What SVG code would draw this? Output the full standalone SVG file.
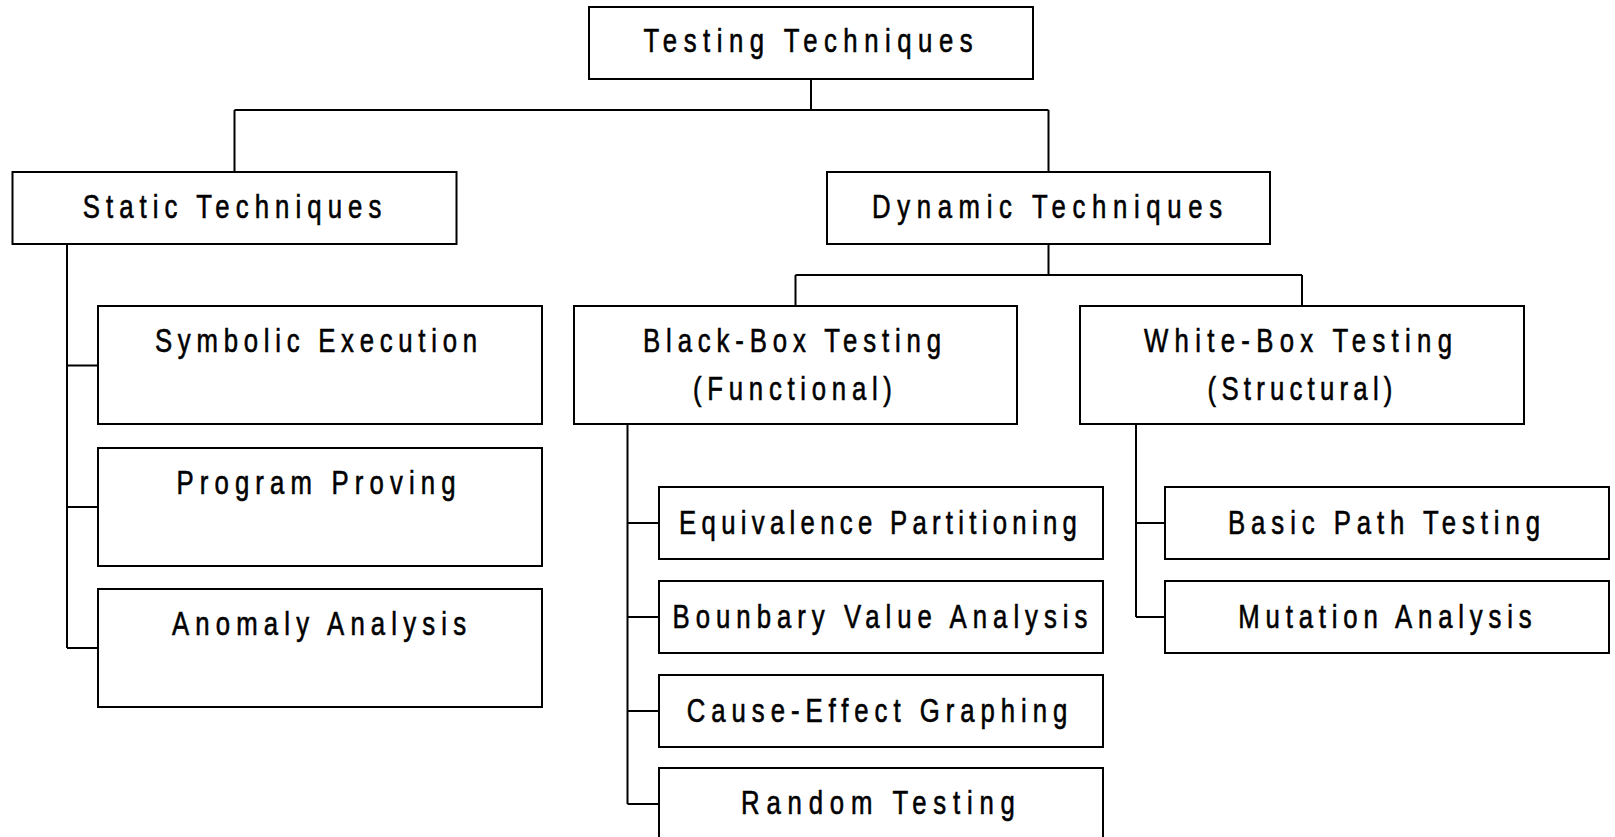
<svg xmlns="http://www.w3.org/2000/svg" width="1615" height="837" viewBox="0 0 1615 837">
  <style>
    .box { fill: #ffffff; stroke: #000000; stroke-width: 2; }
    .wire { fill: none; stroke: #000000; stroke-width: 2; }
    .label { font-family: "Liberation Sans", Arial, sans-serif; font-size: 33px; fill: #000000; stroke: #000000; stroke-width: 0.6; text-anchor: middle; }
  </style>
  <rect width="1615" height="837" fill="#ffffff"/>

  <!-- connectors -->
  <g id="connectors" class="wire">
    <!-- root to first level -->
    <path d="M811,79 V110 M234.5,110 H1048.5 M234.5,110 V172 M1048.5,110 V172"/>
    <!-- static techniques spine -->
    <path d="M67,244 V648 M67,365.5 H98 M67,507 H98 M67,648 H98"/>
    <!-- dynamic techniques split -->
    <path d="M1048.5,244 V275 M795.5,275 H1302 M795.5,275 V306 M1302,275 V306"/>
    <!-- black-box spine -->
    <path d="M627.5,424 V804 M627.5,523 H659 M627.5,617 H659 M627.5,711 H659 M627.5,804 H659"/>
    <!-- white-box spine -->
    <path d="M1136,424 V617 M1136,523 H1165 M1136,617 H1165"/>
  </g>

  <g id="testing-techniques">
    <rect class="box" x="589" y="7" width="444" height="72"/>
    <text class="label" transform="translate(808,52) scale(0.78,1)" textLength="422" lengthAdjust="spacing">Testing Techniques</text>
  </g>

  <g id="static-techniques">
    <rect class="box" x="12.5" y="172" width="444" height="72"/>
    <text class="label" transform="translate(232,218) scale(0.78,1)" textLength="383" lengthAdjust="spacing">Static Techniques</text>
  </g>

  <g id="dynamic-techniques">
    <rect class="box" x="827" y="172" width="443" height="72"/>
    <text class="label" transform="translate(1047,218) scale(0.78,1)" textLength="449" lengthAdjust="spacing">Dynamic Techniques</text>
  </g>

  <g id="symbolic-execution">
    <rect class="box" x="98" y="306" width="444" height="118"/>
    <text class="label" transform="translate(316,352) scale(0.78,1)" textLength="413" lengthAdjust="spacing">Symbolic Execution</text>
  </g>

  <g id="program-proving">
    <rect class="box" x="98" y="448" width="444" height="118"/>
    <text class="label" transform="translate(316,494) scale(0.78,1)" textLength="358" lengthAdjust="spacing">Program Proving</text>
  </g>

  <g id="anomaly-analysis">
    <rect class="box" x="98" y="589" width="444" height="118"/>
    <text class="label" transform="translate(319,635) scale(0.78,1)" textLength="377" lengthAdjust="spacing">Anomaly Analysis</text>
  </g>

  <g id="black-box-testing">
    <rect class="box" x="574" y="306" width="443" height="118"/>
    <text class="label" transform="translate(792,352) scale(0.78,1)" textLength="382" lengthAdjust="spacing">Black-Box Testing</text>
    <text class="label" transform="translate(792.5,400) scale(0.78,1)" textLength="255" lengthAdjust="spacing">(Functional)</text>
  </g>

  <g id="white-box-testing">
    <rect class="box" x="1080" y="306" width="444" height="118"/>
    <text class="label" transform="translate(1298,352) scale(0.78,1)" textLength="395" lengthAdjust="spacing">White-Box Testing</text>
    <text class="label" transform="translate(1300,400) scale(0.78,1)" textLength="237" lengthAdjust="spacing">(Structural)</text>
  </g>

  <g id="equivalence-partitioning">
    <rect class="box" x="659" y="487" width="444" height="72"/>
    <text class="label" transform="translate(878,534) scale(0.78,1)" textLength="510" lengthAdjust="spacing">Equivalence Partitioning</text>
  </g>

  <g id="bounbary-value-analysis">
    <rect class="box" x="659" y="581" width="444" height="72"/>
    <text class="label" transform="translate(880,628) scale(0.78,1)" textLength="532" lengthAdjust="spacing">Bounbary Value Analysis</text>
  </g>

  <g id="cause-effect-graphing">
    <rect class="box" x="659" y="675" width="444" height="72"/>
    <text class="label" transform="translate(877,722) scale(0.78,1)" textLength="488" lengthAdjust="spacing">Cause-Effect Graphing</text>
  </g>

  <g id="random-testing">
    <rect class="box" x="659" y="768" width="444" height="72"/>
    <text class="label" transform="translate(878,814) scale(0.78,1)" textLength="351" lengthAdjust="spacing">Random Testing</text>
  </g>

  <g id="basic-path-testing">
    <rect class="box" x="1165" y="487" width="444" height="72"/>
    <text class="label" transform="translate(1384,534) scale(0.78,1)" textLength="400" lengthAdjust="spacing">Basic Path Testing</text>
  </g>

  <g id="mutation-analysis">
    <rect class="box" x="1165" y="581" width="444" height="72"/>
    <text class="label" transform="translate(1385,628) scale(0.78,1)" textLength="376" lengthAdjust="spacing">Mutation Analysis</text>
  </g>
</svg>
